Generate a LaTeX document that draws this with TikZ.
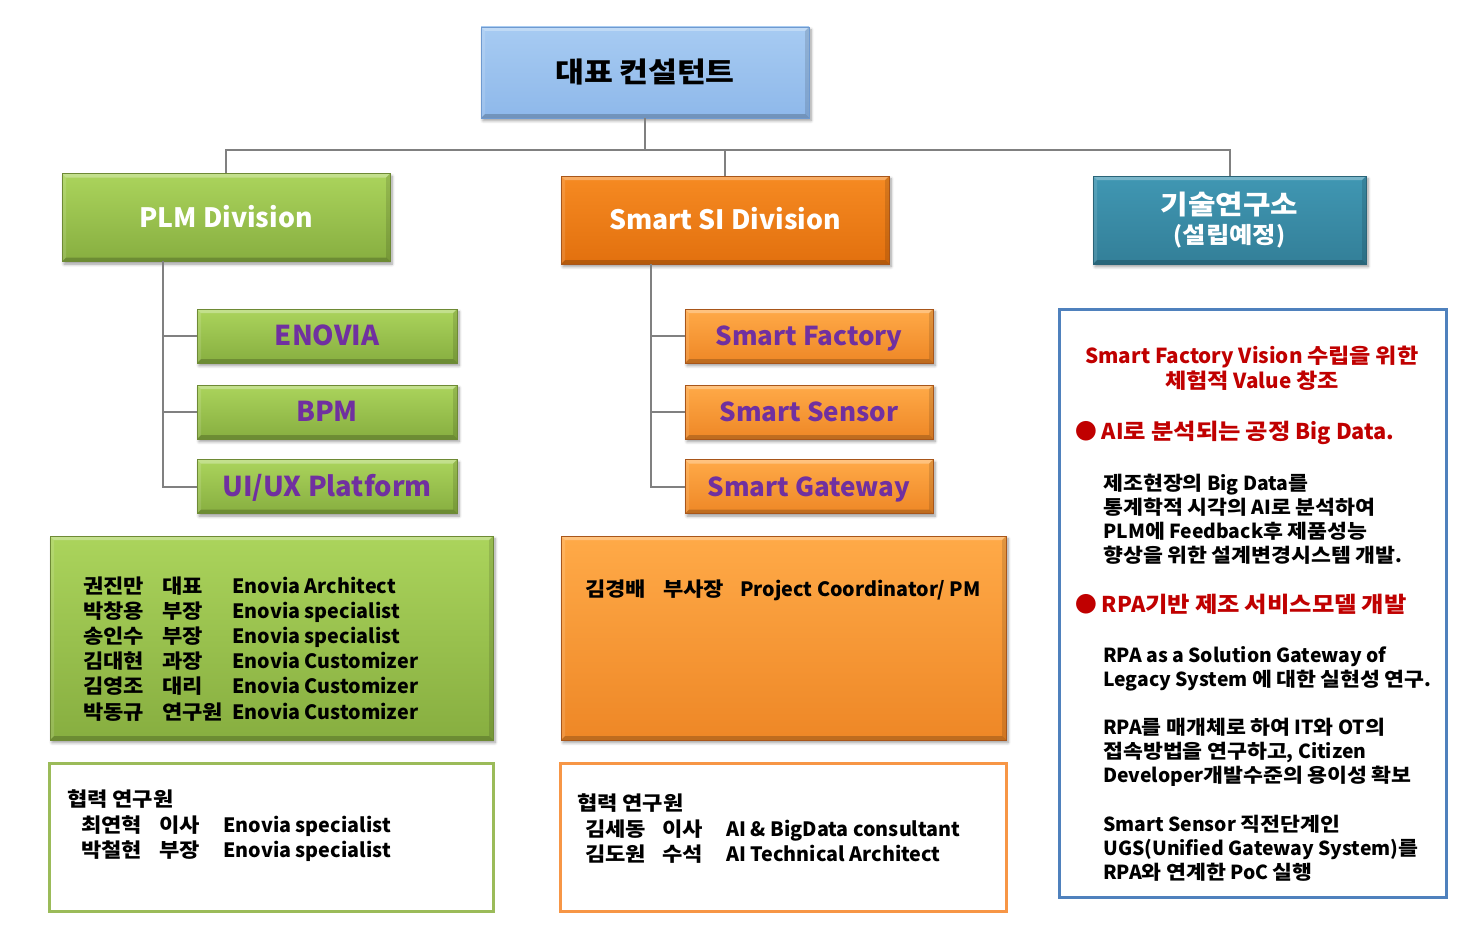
\documentclass[tikz,border=0pt]{standalone}
\usepackage{fontspec}
\setmainfont{Noto Sans CJK KR}
\newfontfamily\hangulfont{Noto Sans CJK KR}[FakeStretch=1.12]
\usetikzlibrary{positioning,calc,shadows.blur}
\definecolor{bosstop}{HTML}{A7CBF2}
\definecolor{bossbot}{HTML}{8EB8EA}
\definecolor{bossline}{HTML}{6F9AD0}
\definecolor{greentop}{HTML}{ABD45C}
\definecolor{greenbot}{HTML}{87AE40}
\definecolor{greenline}{HTML}{6E8A35}
\definecolor{orangetop}{HTML}{F68A22}
\definecolor{orangebot}{HTML}{E2700E}
\definecolor{orangeline}{HTML}{A8561A}
\definecolor{suborangetop}{HTML}{FFAA48}
\definecolor{suborangebot}{HTML}{EE8726}
\definecolor{tealtop}{HTML}{4097B3}
\definecolor{tealbot}{HTML}{337F98}
\definecolor{tealline}{HTML}{2A6478}
\definecolor{subpurple}{HTML}{7030A0}
\definecolor{visionred}{HTML}{C00000}
\definecolor{coopgreen}{HTML}{9BBB59}
\definecolor{cooporange}{HTML}{F79646}
\definecolor{labblue}{HTML}{4F81BD}
\newcommand{\pxu}{0.75pt}

% wider Hangul glyphs
\newXeTeXintercharclass\hangulclass
\newcount\hangulcode
\hangulcode="AC00
\loop
  \XeTeXcharclass\hangulcode=\hangulclass
  \ifnum\hangulcode<"D7A3 \advance\hangulcode by 1
\repeat
\XeTeXinterchartoks 0 \hangulclass = {\begingroup\hangulfont}
\XeTeXinterchartoks 4095 \hangulclass = {\begingroup\hangulfont}
\XeTeXinterchartoks \hangulclass 0 = {\endgroup}
\XeTeXinterchartoks \hangulclass 4095 = {\endgroup}
\XeTeXinterchartokenstate=1

\begin{document}
\begin{tikzpicture}[x=0.75pt, y=-0.75pt,
  conn/.style={draw=black!50, line width=1.5pt},
  shade/.style={blur shadow={shadow xshift=1.5pt, shadow yshift=-2pt, shadow blur steps=6, shadow opacity=40}},
  bevel/.style={path picture={
    \fill[white, opacity=0.3] (path picture bounding box.north west) -- (path picture bounding box.north east) -- ([shift={(-3pt,-3pt)}]path picture bounding box.north east) -- ([shift={(3pt,-3pt)}]path picture bounding box.north west) -- cycle;
    \fill[white, opacity=0.12] (path picture bounding box.north west) -- ([shift={(3pt,-3pt)}]path picture bounding box.north west) -- ([shift={(3pt,3pt)}]path picture bounding box.south west) -- (path picture bounding box.south west) -- cycle;
    \fill[black, opacity=0.12] (path picture bounding box.north east) -- ([shift={(-3pt,-3pt)}]path picture bounding box.north east) -- ([shift={(-3pt,3pt)}]path picture bounding box.south east) -- (path picture bounding box.south east) -- cycle;
    \fill[black, opacity=0.2] (path picture bounding box.south west) -- (path picture bounding box.south east) -- ([shift={(-3pt,3pt)}]path picture bounding box.south east) -- ([shift={(3pt,3pt)}]path picture bounding box.south west) -- cycle;
  }},
  boss/.style={rectangle, draw=bossline, top color=bosstop, bottom color=bossbot, shade, bevel, minimum width=328*\pxu, minimum height=91*\pxu, font=\bfseries\fontsize{21}{24}\selectfont},
  division/.style={rectangle, draw=#1line, top color=#1top, bottom color=#1bot, shade, bevel, minimum width=328*\pxu, minimum height=88*\pxu, text=white, text height=18.5pt, text depth=4pt, font=\bfseries\fontsize{20}{24}\selectfont},
  subbox/.style 2 args={rectangle, draw=#1line, top color=#2top, bottom color=#2bot, shade, bevel, minimum height=54*\pxu, text=subpurple, text height=18.5pt, text depth=4pt},
  team/.style 2 args={rectangle, draw=#1line, top color=#2top, bottom color=#2bot, shade, bevel, minimum height=204*\pxu},
  coop/.style={rectangle, draw=#1, line width=2.25pt, fill=white, minimum height=148*\pxu},
  member/.style={anchor=base west, inner sep=0pt, font=\bfseries\fontsize{14.8}{19}\selectfont},
  para/.style={anchor=west, inner sep=0pt, align=left, font=\bfseries\fontsize{14.5}{18}\selectfont},
  redline/.style={anchor=west, inner sep=0pt, text=visionred, font=\bfseries\fontsize{16.3}{19}\selectfont}
]
  \useasboundingbox (0,0) rectangle (1481,931);

  \node[boss] (ceo) at (645,72.5) {대표 컨설턴트};

  \node[division=green] (plm) at (226,217.5) {PLM Division};
  \node[division=orange] (si) at (725,220) {Smart SI Division};
  \node[rectangle, draw=tealline, top color=tealtop, bottom color=tealbot, shade, bevel, minimum width=273*\pxu, minimum height=88*\pxu, text=white, align=center, font=\bfseries\fontsize{20}{24}\selectfont] (lab) at (1229.5,220) {기술연구소\\[-2pt]{\fontsize{17}{18}\selectfont(설립예정)}};

  \coordinate (bus) at (650,150);
  \draw[conn] (ceo.south) -- (ceo.south |- bus);
  \draw[conn] (plm.north) -- (plm.north |- bus) -- (lab.north |- bus) -- (lab.north);
  \draw[conn] (si.north) -- (si.north |- bus);

  \node[subbox={green}{green}, minimum width=260*\pxu, font=\bfseries\fontsize{20.5}{24}\selectfont] (enovia) at (327,336) {ENOVIA};
  \node[subbox={green}{green}, minimum width=260*\pxu, font=\bfseries\fontsize{20.5}{24}\selectfont] (bpm) at (327,412) {BPM};
  \node[subbox={green}{green}, minimum width=260*\pxu, font=\bfseries\fontsize{20.5}{24}\selectfont] (uiux) at (327,486.5) {UI/UX Platform};

  \node[subbox={orange}{suborange}, minimum width=248*\pxu, font=\bfseries\fontsize{19.5}{24}\selectfont] (factory) at (809,336) {Smart Factory};
  \node[subbox={orange}{suborange}, minimum width=248*\pxu, font=\bfseries\fontsize{19.5}{24}\selectfont] (sensor) at (809,412) {Smart Sensor};
  \node[subbox={orange}{suborange}, minimum width=248*\pxu, font=\bfseries\fontsize{19.5}{24}\selectfont] (gateway) at (809,486.5) {Smart Gateway};

  \coordinate (plmtrunk) at (163,261);
  \coordinate (sitrunk) at (651,264);
  \draw[conn] (plmtrunk) |- (uiux.west);
  \draw[conn] (plmtrunk |- enovia.west) -- (enovia.west);
  \draw[conn] (plmtrunk |- bpm.west) -- (bpm.west);
  \draw[conn] (sitrunk) |- (gateway.west);
  \draw[conn] (sitrunk |- factory.west) -- (factory.west);
  \draw[conn] (sitrunk |- sensor.west) -- (sensor.west);

  \node[team={green}{green}, minimum width=443*\pxu] (plmteam) at (271.5,638) {};
  \node[team={orange}{suborange}, minimum width=445*\pxu] (siteam) at (783.5,638) {};
  \node[coop=coopgreen, minimum width=444*\pxu] (plmcoop) at (271,837) {};
  \node[coop=cooporange, minimum width=446*\pxu] (sicoop) at (783,837) {};
  \node[coop=labblue, minimum width=387*\pxu, minimum height=588*\pxu] (labbox) at (1252.5,603) {};

  \foreach \nm/\ti/\ro [count=\i] in {권진만/대표/Enovia Architect, 박창용/부장/Enovia specialist, 송인수/부장/Enovia specialist, 김대현/과장/Enovia Customizer, 김영조/대리/Enovia Customizer, 박동규/연구원/Enovia Customizer} {
    \node[member] (gn\i) at (83,567.8+25.2*\i) {\nm};
    \node[member] (gt\i) at (162,567.8+25.2*\i) {\ti};
    \node[member] (gr\i) at (232,567.8+25.2*\i) {\ro};
  }

  \node[member] (gchead) at (67,806) {협력 연구원};
  \node[member] (gcn1) at (81,832) {최연혁};
  \node[member] (gct1) at (159,832) {이사};
  \node[member] (gcr1) at (223,832) {Enovia specialist};
  \node[member] (gcn2) at (81,857) {박철현};
  \node[member] (gct2) at (159,857) {부장};
  \node[member] (gcr2) at (223,857) {Enovia specialist};

  \node[member] (on1) at (585,596) {김경배};
  \node[member] (ot1) at (663,596) {부사장};
  \node[member] (or1) at (740,596) {Project Coordinator/ PM};

  \node[member] (ochead) at (577,810) {협력 연구원};
  \node[member] (ocn1) at (585,836) {김세동};
  \node[member] (oct1) at (662,836) {이사};
  \node[member] (ocr1) at (726,836) {AI \& BigData consultant};
  \node[member] (ocn2) at (585,861) {김도원};
  \node[member] (oct2) at (662,861) {수석};
  \node[member] (ocr2) at (726,861) {AI Technical Architect};

  \node[inner sep=0pt, align=center, text=visionred, font=\bfseries\fontsize{15.5}{19}\selectfont] (vision) at (1252,368.5) {Smart Factory Vision 수립을 위한\\체험적 Value 창조};
  \node[redline] (bigdata) at (1075,433) {● AI로 분석되는 공정 Big Data.};
  \node[para] (p1) at (1103,519) {제조현장의 Big Data를\\통계학적 시각의 AI로 분석하여\\PLM에 Feedback후 제품성능\\향상을 위한 설계변경시스템 개발.};
  \node[redline] (rpa) at (1075,604) {● RPA기반 제조 서비스모델 개발};
  \node[para] (p2) at (1103,669) {RPA as a Solution Gateway of\\Legacy System 에 대한 실현성 연구.};
  \node[para] (p3) at (1103,752) {RPA를 매개체로 하여 IT와 OT의\\접속방법을 연구하고, Citizen\\Developer개발수준의 용이성 확보};
  \node[para] (p4) at (1103,848.5) {Smart Sensor 직전단계인\\UGS(Unified Gateway System)를\\RPA와 연계한 PoC 실행};
\end{tikzpicture}
\end{document}
